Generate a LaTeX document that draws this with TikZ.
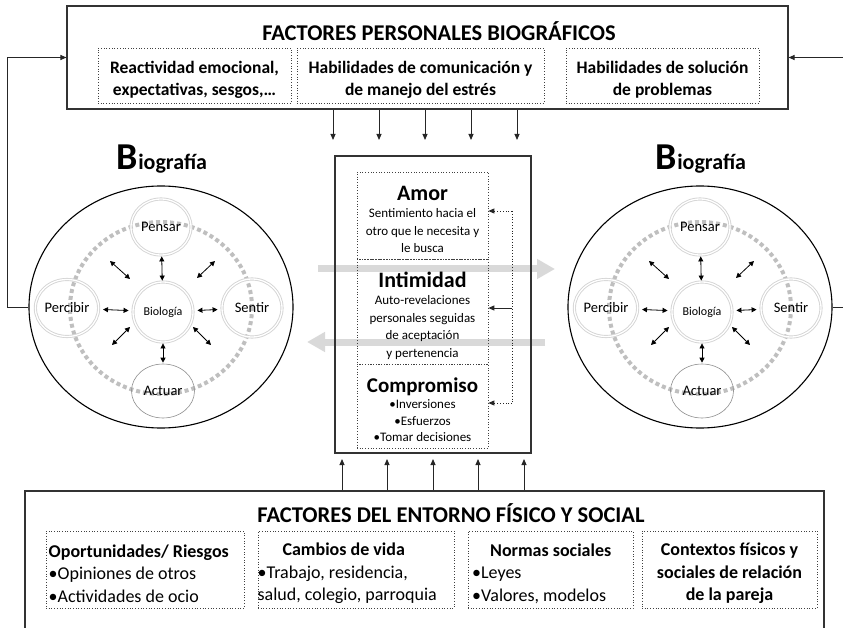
\documentclass[tikz,border=0pt]{standalone}
\usepackage{fontspec}
\setmainfont{Carlito}
\usetikzlibrary{arrows.meta,shapes.geometric,calc}
\newcommand\fsz[2]{\fontsize{#1}{#2}\selectfont}
\tikzset{
  frame/.style={draw=black!80, line width=1.1pt, inner sep=0pt},
  dotbox/.style={draw=black!75, dotted, line width=0.7pt, inner sep=0pt},
  boxtext/.style={inner sep=0pt, align=center},
  conn/.style={draw=black!85, line width=1pt},
  tip/.style={-{Triangle[length=6pt,width=5pt]}},
  dtip/.style={{Triangle[length=5pt,width=5pt]}-{Triangle[length=5pt,width=5pt]}, line width=0.8pt},
  ghost/.style={draw=black!15, line width=7pt, -{Triangle[length=18pt,width=19pt]}},
  bigell/.style={ellipse, draw=black, line width=1.1pt, minimum width=264pt, minimum height=242pt, inner sep=0pt},
  ring/.style={draw=black!25, line width=4pt, dash pattern=on 4pt off 3pt},
  sat/.style={ellipse, draw=black!17, double=white, double distance=1.3pt, line width=0.9pt, inner sep=0pt, font=\fsz{14.5}{15}},
  satb/.style={ellipse, draw=black!45, line width=0.6pt, inner sep=0pt, font=\fsz{14.5}{15}},
  fbline/.style={draw=black!85, dotted, line width=0.8pt},
  bio/.pic={
    \node[bigell] (-outer) at (0,0) {};
    \node[anchor=base, font=\bfseries] (-title) at (1,-137) {{\fsz{38}{38}B}{\fsz{22}{22}iografía}};
    \draw[ring] (0,1) ellipse [x radius=91pt, y radius=86pt];
    \node[sat, minimum width=60pt, minimum height=56pt] (-pensar) at (0,-80) {Pensar};
    \node[sat, minimum width=60pt, minimum height=60pt, font=\fsz{12}{13}] (-bio) at (2,5) {Biología};
    \node[sat, minimum width=57pt, minimum height=57pt] (-percibir) at (-94,1) {Percibir};
    \node[sat, minimum width=60pt, minimum height=58pt] (-sentir) at (91,1) {Sentir};
    \node[satb, minimum width=63pt, minimum height=54pt] (-actuar) at (2,84) {Actuar};
    \draw[dtip, shorten <=1pt, shorten >=1pt] (-bio) -- (-pensar);
    \draw[dtip, shorten <=1pt, shorten >=1pt] (-bio) -- (-actuar);
    \draw[dtip, shorten <=4pt, shorten >=4pt] (-bio) -- (-percibir);
    \draw[dtip, shorten <=4pt, shorten >=4pt] (-bio) -- (-sentir);
    \coordinate (-ul1) at (-51,-46); \coordinate (-ul2) at (-31,-28);
    \coordinate (-ur1) at (36,-29);  \coordinate (-ur2) at (54,-46);
    \coordinate (-ll1) at (-49,38);  \coordinate (-ll2) at (-31,20);
    \coordinate (-lr1) at (32,20);   \coordinate (-lr2) at (50,38);
    \draw[dtip] (-ul1) -- (-ul2);
    \draw[dtip] (-ur1) -- (-ur2);
    \draw[dtip] (-ll1) -- (-ll2);
    \draw[dtip] (-lr1) -- (-lr2);
  }
}
\begin{document}
\begin{tikzpicture}[x=1pt,y=-1pt]
\useasboundingbox (0,0) rectangle (843,628);

% light grey exchange arrows
\coordinate (g1s) at (318,269); \coordinate (g1e) at (555,269);
\coordinate (g2s) at (545,342); \coordinate (g2e) at (307,342);
\draw[ghost] (g1s) -- (g1e);
\draw[ghost] (g2s) -- (g2e);

% top box
\node[frame, minimum width=721pt, minimum height=103pt] (topbox) at (427.5,57.5) {};
\node[font=\fsz{22.5}{24}\bfseries] (toptitle) at (439,31) {FACTORES PERSONALES BIOGRÁFICOS};
\node[dotbox, minimum width=193pt, minimum height=55pt] (t1) at (194.5,75.5) {};
\node[dotbox, minimum width=247pt, minimum height=55pt] (t2) at (420.5,75.5) {};
\node[dotbox, minimum width=193pt, minimum height=55pt] (t3) at (662.5,75.5) {};
\node[boxtext, font=\fsz{17.5}{22}\bfseries] (t1txt) at (194.5,79.5) {Reactividad emocional,\\expectativas, sesgos,…};
\node[boxtext, font=\fsz{17.5}{22}\bfseries] (t2txt) at (420.5,79.5) {Habilidades de comunicación y\\de manejo del estrés};
\node[boxtext, font=\fsz{17.5}{22}\bfseries] (t3txt) at (662.5,79.5) {Habilidades de solución\\de problemas};

% biography circles
\pic (L) at (161,307) {bio};
\pic (R) at (700,307) {bio};

% feedback lines to top box
\coordinate (lc) at (7,307);
\draw[conn, tip] (L-outer.west) -- (lc) |- (topbox.west);
\coordinate (rc) at (843,307);
\draw[conn] (R-outer.east) -- (rc);
\coordinate (rt) at (843,57.5);
\draw[conn, tip] (rt) -- (topbox.east);

% central box
\node[frame, minimum width=196pt, minimum height=297pt] (cbox) at (433,304.5) {};
\node[dotbox, minimum width=131pt, minimum height=87pt] (amor) at (422.5,215.5) {};
\node[dotbox, minimum width=131pt, minimum height=105pt] (inti) at (422.5,311.5) {};
\node[dotbox, minimum width=131pt, minimum height=84pt] (comp) at (422.5,406) {};
\node[boxtext, font=\fsz{13}{17.5}] (amortxt) at (422.5,219.5)
  {{\fsz{22}{24}\bfseries Amor}\\Sentimiento hacia el\\otro que le necesita y\\le busca};
\node[boxtext, font=\fsz{13}{17.5}] (intitxt) at (422.5,315.5)
  {{\fsz{22}{24}\bfseries Intimidad}\\Auto-revelaciones\\personales seguidas\\de aceptación\\y pertenencia};
\node[boxtext, font=\fsz{13}{16.5}] (comptxt) at (422.5,409.5)
  {{\fsz{21}{23}\bfseries Compromiso}\\•Inversiones\\•Esfuerzos\\•Tomar decisiones};

% dotted feedback inside central box
\coordinate (fbt) at (512,211);
\coordinate (fbb) at (512,403);
\coordinate (fbm) at (512,308);
\draw[fbline] (fbt) -- (fbb);
\draw[fbline, tip] (fbt) -- (fbt -| amor.east);
\draw[fbline, tip] (fbb) -- (fbb -| comp.east);
\draw[conn, tip] (fbm) -- (fbm -| inti.east);

% arrows from top box
\foreach \x in {333,379,425,471,517}{
  \coordinate (ta\x) at (\x,140);
  \draw[conn, tip] (topbox.south -| ta\x) -- (ta\x);
}

% bottom box
\node[frame, minimum width=799pt, minimum height=149pt] (botbox) at (424.5,565.5) {};
\node[font=\fsz{22.5}{24}\bfseries] (bottitle) at (451,513) {FACTORES DEL ENTORNO FÍSICO Y SOCIAL};
\node[dotbox, minimum width=198pt, minimum height=77pt] (b1) at (145,569.5) {};
\node[dotbox, minimum width=196pt, minimum height=77pt] (b2) at (356,569.5) {};
\node[dotbox, minimum width=165pt, minimum height=77pt] (b3) at (550.5,569.5) {};
\node[dotbox, minimum width=175pt, minimum height=77pt] (b4) at (729.5,569.5) {};
\node[boxtext, align=left, anchor=west, font=\fsz{18}{22.5}] (b1txt) at (48.5,573.5)
  {\textbf{Oportunidades/ Riesgos}\\•Opiniones de otros\\•Actividades de ocio};
\node[boxtext, align=left, anchor=west, font=\fsz{18}{22.5}] (b2txt) at (257.5,573.5)
  {\makebox[172pt][c]{\textbf{Cambios de vida}}\\•Trabajo, residencia,\\salud, colegio, parroquia};
\node[boxtext, align=left, anchor=west, font=\fsz{18}{22.5}] (b3txt) at (472,573.5)
  {\makebox[157pt][c]{\textbf{Normas sociales}}\\•Leyes\\•Valores, modelos};
\node[boxtext, font=\fsz{18}{22.5}\bfseries] (b4txt) at (729.5,573.5)
  {Contextos físicos y\\sociales de relación\\de la pareja};

% arrows from bottom box
\foreach \x in {342,387,433,478,524}{
  \coordinate (ba\x) at (\x,459);
  \draw[conn, tip] (botbox.north -| ba\x) -- (ba\x);
}
\end{tikzpicture}
\end{document}
